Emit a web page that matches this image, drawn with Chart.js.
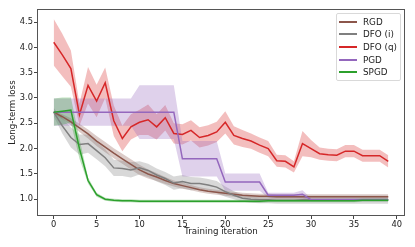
<!DOCTYPE html>
<html lang="en">
<head>
<meta charset="UTF-8">
<title>Long-term loss vs training iteration</title>
<script src="https://cdn.jsdelivr.net/npm/chart.js"></script>
<style>
    body { margin: 0; background: #fff; }
    .wrap { position: relative; width: 415px; height: 247px; }
    canvas { display: block; }
    .legend {
        position: absolute; left: 336px; top: 13px; width: 63px; height: 66px;
        border: 1px solid #d9d9d9; border-radius: 2px; background: rgba(255,255,255,0.85);
        font: 8.8px 'DejaVu Sans', sans-serif; color: #222;
    }
    .legend .row { position: absolute; left: 0; height: 10px; width: 63px; }
    .legend .sw { position: absolute; left: 2px; top: 4px; width: 18px; height: 2px; }
    .legend .tx { position: absolute; left: 26px; top: 0; line-height: 10px; white-space: nowrap; }
</style>
</head>
<body>
<div class="wrap">
    <canvas id="lossChart" width="415" height="247"></canvas>
    <div class="legend" id="legend"></div>
</div>
<script>
const iters = [0,1,2,3,4,5,6,7,8,9,10,11,12,13,14,15,16,17,18,19,20,21,22,23,24,25,26,27,28,29,30,31,32,33,34,35,36,37,38,39];
const xTicks = [0, 5, 10, 15, 20, 25, 30, 35, 40];
const yTicks = [1.0, 1.5, 2.0, 2.5, 3.0, 3.5, 4.0, 4.5];

const names = ['RGD', 'DFO (i)', 'DFO (q)', 'PGD', 'SPGD'];
const colors = ['#8c564b', '#7f7f7f', '#d62728', '#9467bd', '#2ca02c'];

const rgdMean = [2.72,2.63,2.53,2.41,2.29,2.15,2.03,1.91,1.80,1.69,1.58,1.50,1.44,1.37,1.31,1.27,1.23,1.19,1.16,1.14,
                 1.12,1.10,1.08,1.07,1.06,1.06,1.05,1.05,1.05,1.05,1.05,1.05,1.05,1.05,1.05,1.05,1.05,1.05,1.05,1.05];
const rgdStd  = [0.03,0.05,0.07,0.08,0.09,0.10,0.10,0.10,0.10,0.10,0.10,0.09,0.08,0.07,0.06,0.06,0.05,0.05,0.05,0.05,
                 0.05,0.05,0.05,0.05,0.05,0.05,0.05,0.05,0.05,0.05,0.05,0.05,0.05,0.05,0.05,0.05,0.05,0.05,0.05,0.05];

const dfoIMean = [2.72,2.45,2.22,2.08,2.10,1.96,1.82,1.62,1.61,1.58,1.62,1.57,1.48,1.41,1.32,1.35,1.31,1.31,1.28,1.24,
                  1.15,1.08,1.02,1.00,0.99,0.99,0.98,0.98,0.98,0.99,0.99,0.99,0.99,0.99,0.99,0.99,0.99,0.99,0.99,0.99];
const dfoIStd  = [0.08,0.15,0.20,0.20,0.18,0.17,0.17,0.16,0.15,0.15,0.13,0.13,0.13,0.13,0.13,0.13,0.13,0.12,0.12,0.12,
                  0.10,0.08,0.07,0.07,0.07,0.07,0.07,0.07,0.07,0.08,0.08,0.08,0.08,0.08,0.08,0.08,0.08,0.08,0.08,0.08];

const dfoQMean = [4.10,3.85,3.58,2.67,3.25,2.94,3.30,2.55,2.20,2.43,2.52,2.57,2.43,2.61,2.30,2.28,2.36,2.22,2.26,2.33,
                  2.52,2.26,2.20,2.15,2.07,2.00,1.76,1.75,1.64,2.10,2.00,1.90,1.88,1.87,1.95,1.95,1.86,1.86,1.86,1.75];
const dfoQStd  = [0.46,0.42,0.36,0.22,0.36,0.32,0.30,0.30,0.25,0.25,0.25,0.30,0.25,0.25,0.20,0.20,0.20,0.20,0.20,0.20,
                  0.22,0.18,0.17,0.15,0.15,0.15,0.12,0.12,0.11,0.25,0.17,0.12,0.12,0.12,0.12,0.12,0.12,0.12,0.12,0.12];

const pgdMean = [2.72,2.72,2.72,2.72,2.72,2.72,2.72,2.72,2.72,2.72,2.72,2.72,2.72,2.72,2.72,1.80,1.80,1.80,1.80,1.80,
                 1.34,1.34,1.34,1.34,1.34,1.08,1.08,1.08,1.08,1.10,0.99,0.99,0.99,0.99,0.99,0.99,0.99,0.99,0.99,0.99];
const pgdStd  = [0.27,0.27,0.27,0.27,0.27,0.27,0.27,0.27,0.27,0.27,0.53,0.53,0.53,0.53,0.53,0.35,0.35,0.35,0.35,0.35,
                 0.17,0.17,0.17,0.17,0.17,0.05,0.05,0.05,0.05,0.08,0.03,0.03,0.03,0.03,0.03,0.03,0.03,0.03,0.03,0.03];

const spgdMean = [2.72,2.74,2.76,2.00,1.37,1.09,1.00,0.98,0.97,0.97,0.96,0.96,0.96,0.96,0.96,0.96,0.96,0.96,0.96,0.96,
                  0.96,0.96,0.96,0.96,0.96,0.97,0.97,0.97,0.97,0.97,0.97,0.97,0.97,0.97,0.97,0.97,0.98,0.98,0.98,0.98];
const spgdStd  = [0.27,0.27,0.25,0.20,0.06,0.04,0.03,0.03,0.03,0.03,0.03,0.03,0.03,0.03,0.03,0.03,0.03,0.03,0.03,0.03,
                  0.03,0.03,0.03,0.03,0.03,0.03,0.03,0.03,0.03,0.03,0.03,0.03,0.03,0.03,0.03,0.03,0.03,0.03,0.03,0.03];

const means = [rgdMean, dfoIMean, dfoQMean, pgdMean, spgdMean];
const stds = [rgdStd, dfoIStd, dfoQStd, pgdStd, spgdStd];

function alpha(hex, a) {
    const n = parseInt(hex.slice(1), 16);
    return `rgba(${n >> 16}, ${(n >> 8) & 255}, ${n & 255}, ${a})`;
}

// bands first (like fill_between zorder 1), lines on top
const datasets = [];
names.forEach((name, k) => {
    datasets.push({
        label: name + ' upper',
        data: iters.map((x, i) => ({ x: x, y: means[k][i] + stds[k][i] })),
        borderWidth: 0, pointRadius: 0, fill: '+1',
        backgroundColor: alpha(colors[k], 0.3), order: 200 - k
    });
    datasets.push({
        label: name + ' lower',
        data: iters.map((x, i) => ({ x: x, y: means[k][i] - stds[k][i] })),
        borderWidth: 0, pointRadius: 0, fill: false, order: 200 - k
    });
});
names.forEach((name, k) => {
    datasets.push({
        label: name,
        data: iters.map((x, i) => ({ x: x, y: means[k][i] })),
        borderColor: colors[k], borderWidth: 1.5, pointRadius: 0, fill: false,
        tension: 0, order: 100 - k
    });
});

const tickFont = { family: 'DejaVu Sans', size: 8.3 };
const titleFont = { family: 'DejaVu Sans', size: 8.7 };
const textColor = '#222';

const spines = {
    id: 'spines',
    afterDatasetsDraw(chart) {
        const { ctx, chartArea: a } = chart;
        ctx.save();
        ctx.strokeStyle = '#555';
        ctx.lineWidth = 1;
        ctx.strokeRect(a.left + 0.5, a.top + 0.5, a.right - a.left - 1, a.bottom - a.top - 1);
        ctx.restore();
    }
};

new Chart(document.getElementById('lossChart'), {
    type: 'line',
    data: { datasets },
    options: {
        responsive: false,
        animation: false,
        layout: { padding: { left: 0, top: 9, right: 10, bottom: 0 } },
        plugins: { legend: { display: false }, tooltip: { enabled: false } },
        scales: {
            x: {
                type: 'linear', min: -1.95, max: 40.95,
                afterBuildTicks: s => { s.ticks = xTicks.map(v => ({ value: v })); },
                afterFit: s => { s.height = 31; },
                ticks: { font: tickFont, color: textColor, padding: 1, maxRotation: 0, callback: v => String(v) },
                grid: { drawOnChartArea: false, tickLength: 3, tickColor: '#444' },
                border: { display: false },
                title: { display: true, text: 'Training iteration', font: titleFont, color: textColor, padding: { top: 0, bottom: 10.3 } }
            },
            y: {
                type: 'linear', min: 0.67, max: 4.757,
                afterBuildTicks: s => { s.ticks = yTicks.map(v => ({ value: v })); },
                afterFit: s => { s.width = 37; },
                ticks: { font: tickFont, color: textColor, padding: 1, callback: v => v.toFixed(1) },
                grid: { drawOnChartArea: false, tickLength: 3, tickColor: '#444' },
                border: { display: false },
                title: { display: true, text: 'Long-term loss', font: titleFont, color: textColor, padding: { top: 8, bottom: 0 } }
            }
        }
    },
    plugins: [spines]
});

// legend box in the upper right corner of the axes
const legend = document.getElementById('legend');
names.forEach((name, k) => {
    const row = document.createElement('div');
    row.className = 'row';
    row.style.top = (2.5 + 12.7 * k) + 'px';
    row.innerHTML = `<span class="sw" style="background:${colors[k]}"></span><span class="tx">${name}</span>`;
    legend.appendChild(row);
});
</script>
</body>
</html>
